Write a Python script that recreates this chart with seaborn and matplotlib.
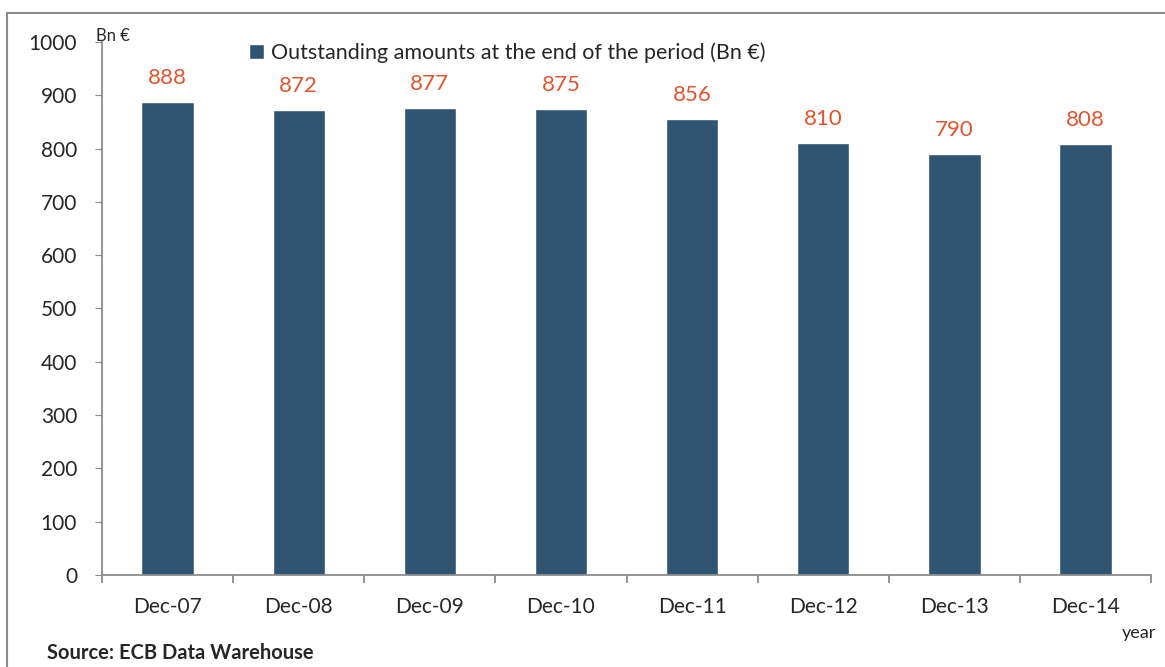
import matplotlib
matplotlib.use("Agg")
import matplotlib.pyplot as plt
import seaborn as sns
import pandas as pd
from matplotlib.patches import Rectangle

# data
periods = ["Dec-07", "Dec-08", "Dec-09", "Dec-10", "Dec-11", "Dec-12", "Dec-13", "Dec-14"]
amounts = [888, 872, 877, 875, 856, 810, 790, 808]

df = pd.DataFrame({"period": periods, "amount": amounts})

sns.set_style("white")
plt.rcParams["font.family"] = ["Lato", "DejaVu Sans"]

bar_color = "#2F5572"
label_color = "#E0552E"
axis_color = "#8C8C8C"

fig = plt.figure(figsize=(11.65, 6.67), dpi=100)
ax = fig.add_axes([0.0876, 0.138, 0.9004, 0.799])

sns.barplot(data=df, x="period", y="amount", color=bar_color, width=0.4,
            saturation=1, label="Outstanding amounts at the end of the period (Bn \u20ac)", ax=ax)

# valores encima de cada barra
for i, v in enumerate(amounts):
    ax.annotate(str(v), (i, v), xytext=(0, 10), textcoords="offset points",
                ha="center", va="bottom", fontsize=16, color=label_color)

ax.set_ylim(0, 1000)
ax.set_xlim(-0.5, len(periods) - 0.5)
ax.set_yticks(range(0, 1001, 100))
ax.set_xlabel("")
ax.set_ylabel("")

for s in ["top", "right"]:
    ax.spines[s].set_visible(False)
for s in ["left", "bottom"]:
    ax.spines[s].set_color(axis_color)
    ax.spines[s].set_linewidth(1.3)

ax.tick_params(axis="y", which="major", direction="out", length=5, color=axis_color,
               labelsize=15, pad=13, left=True)
ax.tick_params(axis="x", which="major", length=0, labelsize=15, pad=16)
ax.set_xticks([i + 0.5 for i in range(-1, len(periods))], minor=True)
ax.tick_params(axis="x", which="minor", direction="out", length=6, color=axis_color,
               width=1.3, bottom=True)

leg = ax.legend(loc="upper left", bbox_to_anchor=(0.122, 1.035), frameon=False, fontsize=15.5,
                handlelength=0.7, handleheight=0.7, handletextpad=0.3)

fig.text(0.082, 0.938, "Bn \u20ac", fontsize=12)
fig.text(0.963, 0.044, "year", fontsize=13)
fig.text(0.040, 0.012, "Source: ECB Data Warehouse", fontsize=14.5, fontweight="bold")

# marco del gráfico
fig.patches.append(Rectangle((0.006, -0.1), 1.2, 1.08, transform=fig.transFigure,
                             fill=False, edgecolor="#8C8C8C", linewidth=1.5))

fig.savefig("out.png", dpi=100)
